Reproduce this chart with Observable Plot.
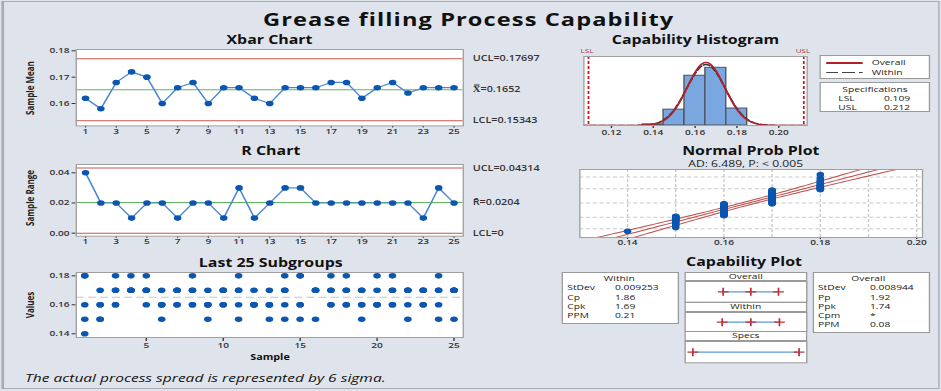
<!DOCTYPE html>
<html><head><meta charset="utf-8">
<script src="https://cdn.jsdelivr.net/npm/d3@7"></script>
<script src="https://cdn.jsdelivr.net/npm/@observablehq/plot@0.6"></script>
<style>
html,body{margin:0;padding:0;background:#dfe4ec;overflow:hidden}
#root{position:relative;height:391px;transform-origin:0 0;font-family:"Open Sans",sans-serif;color:#222;overflow:visible}
.t{position:absolute;white-space:nowrap;line-height:1}
.box{position:absolute;background:#fff;border:1px solid #9a9a9a;box-sizing:border-box}
.hdr{position:absolute;background:#fff;border:1px solid #9a9a9a;box-sizing:border-box}
svg{overflow:visible}
</style></head><body><div id="root"></div>
<script>
// ---------------- data ----------------
const samples = [1,2,3,4,5,6,7,8,9,10,11,12,13,14,15,16,17,18,19,20,21,22,23,24,25];
const xbarMeans = [0.162,0.158,0.168,0.172,0.170,0.160,0.166,0.168,0.160,0.166,0.166,0.162,0.160,0.166,0.166,0.166,0.168,0.168,0.162,0.166,0.168,0.164,0.166,0.166,0.166];
const ranges = [0.04,0.02,0.02,0.01,0.02,0.02,0.01,0.02,0.02,0.01,0.03,0.01,0.02,0.03,0.03,0.02,0.02,0.02,0.02,0.02,0.02,0.02,0.01,0.03,0.02];
const subgroups = [
  [0.18,0.18,0.16,0.15,0.14],[0.17,0.16,0.16,0.15,0.15],[0.18,0.17,0.17,0.16,0.16],[0.18,0.17,0.17,0.17,0.17],
  [0.18,0.17,0.17,0.17,0.16],[0.17,0.16,0.16,0.16,0.15],[0.17,0.17,0.17,0.16,0.16],[0.18,0.17,0.17,0.16,0.16],
  [0.17,0.16,0.16,0.16,0.15],[0.17,0.17,0.17,0.16,0.16],[0.18,0.17,0.17,0.16,0.15],[0.17,0.16,0.16,0.16,0.16],
  [0.17,0.16,0.16,0.16,0.15],[0.18,0.17,0.17,0.16,0.15],[0.18,0.18,0.16,0.16,0.15],[0.17,0.17,0.17,0.17,0.15],
  [0.18,0.17,0.17,0.16,0.16],[0.18,0.17,0.17,0.16,0.16],[0.17,0.17,0.16,0.16,0.15],[0.18,0.17,0.16,0.16,0.16],
  [0.18,0.17,0.17,0.16,0.16],[0.17,0.17,0.17,0.16,0.15],[0.17,0.17,0.17,0.16,0.16],[0.18,0.17,0.17,0.16,0.15],
  [0.17,0.17,0.17,0.17,0.15]
];
const xbarLimits = {ucl: 0.17697, cl: 0.1652, lcl: 0.15343};
const rLimits = {ucl: 0.04314, cl: 0.0204, lcl: 0};
const xbarLabels = ["UCL=0.17697", "X\u033F=0.1652", "LCL=0.15343"];
const rLabels = ["UCL=0.04314", "R\u0304=0.0204", "LCL=0"];
const xbarTicks = [1,3,5,7,9,11,13,15,17,19,21,23,25];
const subTicks = [5,10,15,20,25];
const LSL = 0.109, USL = 0.212;
const processMean = 0.1652;
const sdWithin = 0.009253, sdOverall = 0.008944;
const histEdges = [0.135,0.145,0.155,0.165,0.175,0.185];
const histTicks = [0.12,0.14,0.16,0.18,0.20];
const probTicks = [0.14,0.16,0.18,0.20];
const probGridX = [0.14,0.15,0.16,0.17,0.18,0.19,0.20];
const probGridPct = [1,10,50,90,99];
const adText = "AD: 6.489, P: < 0.005";
const withinStats = [["StDev","0.009253"],["Cp","1.86"],["Cpk","1.69"],["PPM","0.21"]];
const overallStats = [["StDev","0.008944"],["Pp","1.92"],["Ppk","1.74"],["Cpm","*"],["PPM","0.08"]];
const specRows = [["LSL","0.109"],["USL","0.212"]];

// ---------------- layout helpers ----------------
const S = 1.35;
const X = v => v / S;
const root = document.getElementById("root");
root.style.width = (941 / S) + "px";
root.style.transform = `scaleX(${S})`;

const RED = "#c9544d", GREEN = "#5fb55f", DOT = "#0a56b0", LINE = "#4a86d4", HIST = "#7ba7e0";

function txt(str, x, cy, o = {}) {
  const d = document.createElement("div");
  d.className = "t"; d.textContent = str;
  const fs = o.size || 8;
  d.style.fontSize = fs + "px"; d.style.height = fs + "px";
  d.style.fontWeight = o.weight || "normal";
  if (o.italic) d.style.fontStyle = "italic";
  if (o.spacing) d.style.letterSpacing = o.spacing + "px";
  d.style.color = o.color || "#222";
  d.style.top = (cy - 0.53 * fs) + "px";
  d.style.left = X(x) + "px";
  const a = o.anchor || "middle";
  d.style.transform = a === "middle" ? "translateX(-50%)" : a === "end" ? "translateX(-100%)" : "none";
  root.append(d); return d;
}
function vlabel(str, cx, cy, size) {
  const d = document.createElement("div");
  d.className = "t"; d.textContent = str;
  d.style.fontSize = size + "px"; d.style.fontWeight = "bold"; d.style.color = "#222";
  d.style.left = X(cx) + "px"; d.style.top = cy + "px";
  d.style.transform = "translate(-50%,-50%) rotate(-90deg)";
  root.append(d);
}
function box(x0, y0, x1, y1, cls = "box") {
  const d = document.createElement("div");
  d.className = cls;
  d.style.left = X(x0) + "px"; d.style.top = y0 + "px";
  d.style.width = X(x1 - x0) + "px"; d.style.height = (y1 - y0) + "px";
  root.append(d); return d;
}
function panel(fx0, fy0, fx1, fy1, m, opts) {
  const [mt, mr, mb, ml] = m;
  const chart = Plot.plot({
    ...opts,
    width: X(fx1 - fx0) + ml + mr, height: (fy1 - fy0) + mt + mb,
    marginTop: mt, marginRight: mr, marginBottom: mb, marginLeft: ml,
    style: {background: "transparent", fontFamily: "Open Sans", fontSize: "7.5px", fontWeight: 600, color: "#333", overflow: "visible"}
  });
  chart.style.position = "absolute";
  chart.style.left = (X(fx0) - ml) + "px";
  chart.style.top = (fy0 - mt) + "px";
  root.append(chart);
  return chart;
}

// outer border
const ob = box(1, 1, 940, 389, "box");
ob.style.background = "transparent"; ob.style.border = "1px solid #a8acb2"; ob.style.borderLeft = "2px solid #a8acb2";

// ---------------- title ----------------
txt("Grease filling Process Capability", 468.7, 20.2, {size: 17.5, weight: "bold", color: "#111", spacing: 0.8});

// ---------------- Xbar chart ----------------
const xbarTable = samples.map((s, i) => ({sample: s, mean: xbarMeans[i]}));
const xbarLab = [xbarLimits.ucl, xbarLimits.cl, xbarLimits.lcl].map((v, i) => ({v, t: xbarLabels[i]}));
txt("Xbar Chart", 269.5, 40.3, {size: 11.8, weight: "bold", color: "#111"});
vlabel("Sample Mean", 30, 88, 8);
panel(76, 49.3, 463, 125.7, [0, 75, 14, 30], {
  x: {domain: [0.4, 25.6], ticks: xbarTicks, tickSize: 2, tickPadding: 0.5, tickFormat: d => d, label: null},
  y: {domain: [0.1515, 0.1805], ticks: [0.16, 0.17, 0.18], tickFormat: ".2f", tickSize: 3, tickPadding: 2, label: null},
  marks: [
    Plot.frame({fill: "white", stroke: "none"}),
    Plot.ruleY([xbarLimits.ucl, xbarLimits.lcl], {stroke: RED, strokeWidth: 1}),
    Plot.ruleY([xbarLimits.cl], {stroke: GREEN, strokeWidth: 1}),
    Plot.line(xbarTable, {x: "sample", y: "mean", stroke: LINE, strokeWidth: 1.2}),
    Plot.dot(xbarTable, {x: "sample", y: "mean", r: 2.8, fill: DOT, stroke: "none"}),
    Plot.frame({stroke: "#a0a0a0"}),
    Plot.text(xbarLab, {x: () => 25.6, y: "v", text: "t", textAnchor: "start", dx: 7, fontSize: 8, fontWeight: 600, fill: "#333"})
  ]
});

// ---------------- R chart ----------------
const rTable = samples.map((s, i) => ({sample: s, range: ranges[i]}));
const rLab = [rLimits.ucl, rLimits.cl, rLimits.lcl].map((v, i) => ({v, t: rLabels[i]}));
txt("R Chart", 270.8, 151.3, {size: 11.8, weight: "bold", color: "#111"});
vlabel("Sample Range", 30, 198, 8);
panel(76, 164, 463, 235.7, [0, 75, 14, 30], {
  x: {domain: [0.4, 25.6], ticks: xbarTicks, tickSize: 2, tickPadding: 0.5, tickFormat: d => d, label: null},
  y: {domain: [-0.002, 0.0455], ticks: [0, 0.02, 0.04], tickFormat: ".2f", tickSize: 3, tickPadding: 2, label: null},
  marks: [
    Plot.frame({fill: "white", stroke: "none"}),
    Plot.ruleY([rLimits.ucl, rLimits.lcl], {stroke: RED, strokeWidth: 1}),
    Plot.ruleY([rLimits.cl], {stroke: GREEN, strokeWidth: 1}),
    Plot.line(rTable, {x: "sample", y: "range", stroke: LINE, strokeWidth: 1.2}),
    Plot.dot(rTable, {x: "sample", y: "range", r: 2.8, fill: DOT, stroke: "none"}),
    Plot.frame({stroke: "#a0a0a0"}),
    Plot.text(rLab, {x: () => 25.6, y: "v", text: "t", textAnchor: "start", dx: 7, fontSize: 8, fontWeight: 600, fill: "#333"})
  ]
});

// ---------------- Last 25 subgroups ----------------
const obs = subgroups.flatMap((g, i) => g.map(v => ({sample: samples[i], value: v})));
txt("Last 25 Subgroups", 270.8, 263.3, {size: 11.8, weight: "bold", color: "#111"});
vlabel("Values", 30, 305, 8);
txt("Sample", 270, 357, {size: 8, weight: "bold", color: "#111"});
panel(76, 271.7, 463, 336.7, [0, 10, 16, 30], {
  x: {domain: [0.45, 25.6], ticks: subTicks, tickSize: 4, tickPadding: 1.5, tickFormat: d => d, label: null},
  y: {domain: [0.1374, 0.1823], ticks: [0.14, 0.16, 0.18], tickFormat: ".2f", tickSize: 3, tickPadding: 2, label: null},
  marks: [
    Plot.frame({fill: "white", stroke: "none"}),
    Plot.ruleY([processMean], {stroke: "#c4c4c4", strokeWidth: 1.2, strokeDasharray: "6,3"}),
    Plot.dot(obs, {x: "sample", y: "value", r: 2.8, fill: DOT, stroke: "none"}),
    Plot.frame({stroke: "#a0a0a0"})
  ]
});

// ---------------- Capability histogram ----------------
const allValues = subgroups.flat();
const bins = histEdges.slice(0, -1).map((a, i) => {
  const b = histEdges[i + 1];
  return {x0: a, x1: b, count: allValues.filter(v => v >= a - 1e-9 && v < b - 1e-9).length};
});
const N = allValues.length, binW = histEdges[1] - histEdges[0];
const pdf = (x, m, sd) => Math.exp(-0.5 * ((x - m) / sd) ** 2) / (sd * Math.sqrt(2 * Math.PI));
const curveX = d3.range(0.105, 0.2165, 0.0005);
const curveOverall = curveX.map(x => ({x, y: N * binW * pdf(x, processMean, sdOverall)}));
const curveWithin = curveX.map(x => ({x, y: N * binW * pdf(x, processMean, sdWithin)}));
txt("Capability Histogram", 695.5, 40.3, {size: 11.8, weight: "bold", color: "#111"});
txt("LSL", 587, 51.5, {size: 6, color: "#b03a3a"});
txt("USL", 803, 51.5, {size: 6, color: "#b03a3a"});
panel(582.7, 56, 806, 125, [0, 0, 14, 0], {
  x: {domain: [0.1068, 0.2136], ticks: histTicks, tickFormat: ".2f", tickSize: 3, tickPadding: 1.5, label: null},
  y: {domain: [0, 61], axis: null},
  marks: [
    Plot.frame({fill: "white", stroke: "none"}),
    Plot.rectY(bins, {x1: "x0", x2: "x1", y: "count", fill: HIST, stroke: "#4f5358", strokeWidth: 1}),
    Plot.line(curveWithin, {x: "x", y: "y", stroke: "#3a3a3a", strokeWidth: 1.5, strokeDasharray: "5,2", clip: true}),
    Plot.line(curveOverall, {x: "x", y: "y", stroke: "#b3202a", strokeWidth: 1.4, clip: true}),
    Plot.ruleX([LSL, USL], {stroke: "#d0141e", strokeWidth: 1.3, strokeDasharray: "3,2"}),
    Plot.frame({stroke: "#a0a0a0"})
  ]
});

// legend + specs boxes
box(820, 55, 930, 79.3);
{
  const l1 = box(826.7, 62.3, 863.3, 64.3); l1.style.border = "none"; l1.style.background = "#b3202a";
  const l2 = box(826.7, 71.7, 863.3, 73.5); l2.style.border = "none";
  l2.style.background = "repeating-linear-gradient(to right, #444 0px, #444 9px, transparent 9px, transparent 12px)";
  txt("Overall", 871.7, 63.3, {size: 7.6, anchor: "start"});
  txt("Within", 871.7, 72.7, {size: 7.6, anchor: "start"});
}
box(820, 81.7, 930, 111.7);
txt("Specifications", 875, 90, {size: 7.6});
specRows.forEach((r, i) => {
  txt(r[0], 838.3, 99.3 + i * 9, {size: 7.6, anchor: "start"});
  txt(r[1], 884, 99.3 + i * 9, {size: 7.6, anchor: "start"});
});

// ---------------- Normal probability plot ----------------
function qnorm(p) {
  const a = [-3.969683028665376e+01, 2.209460984245205e+02, -2.759285104469687e+02, 1.383577518672690e+02, -3.066479806614716e+01, 2.506628277459239e+00];
  const b = [-5.447609879822406e+01, 1.615858368580409e+02, -1.556989798598866e+02, 6.680131188771972e+01, -1.328068155288572e+01];
  const c = [-7.784894002430293e-03, -3.223964580411365e-01, -2.400758277161838e+00, -2.549732539343734e+00, 4.374664141464968e+00, 2.938163982698783e+00];
  const d = [7.784695709041462e-03, 3.224671290700398e-01, 2.445134137142996e+00, 3.754408661907416e+00];
  const pl = 0.02425, ph = 1 - pl; let q, r;
  if (p < pl) { q = Math.sqrt(-2 * Math.log(p)); return (((((c[0]*q+c[1])*q+c[2])*q+c[3])*q+c[4])*q+c[5]) / ((((d[0]*q+d[1])*q+d[2])*q+d[3])*q+1); }
  if (p <= ph) { q = p - 0.5; r = q * q; return (((((a[0]*r+a[1])*r+a[2])*r+a[3])*r+a[4])*r+a[5])*q / (((((b[0]*r+b[1])*r+b[2])*r+b[3])*r+b[4])*r+1); }
  q = Math.sqrt(-2 * Math.log(1 - p)); return -(((((c[0]*q+c[1])*q+c[2])*q+c[3])*q+c[4])*q+c[5]) / ((((d[0]*q+d[1])*q+d[2])*q+d[3])*q+1);
}
const sorted = allValues.slice().sort((a, b) => a - b);
const probPts = sorted.map((v, i) => ({x: v, z: qnorm((i + 1 - 0.3) / (N + 0.4))}));
const zs = d3.range(-3.6, 3.61, 0.1);
const half = z => 1.96 * sdOverall * Math.sqrt(1 / N + z * z / (2 * (N - 1)));
const fitLine = zs.map(z => ({x: processMean + sdOverall * z, z}));
const loLine = zs.map(z => ({x: processMean + sdOverall * z - half(z), z}));
const hiLine = zs.map(z => ({x: processMean + sdOverall * z + half(z), z}));
txt("Normal Prob Plot", 750.8, 150.8, {size: 11.8, weight: "bold", color: "#111"});
txt(adText, 745.7, 163.8, {size: 9, color: "#222"});
panel(579, 169.3, 921.7, 237.3, [0, 0, 12, 0], {
  x: {domain: [0.1301, 0.2012], ticks: probTicks, tickFormat: ".2f", tickSize: 2, tickPadding: 0.5, label: null},
  y: {domain: [-3.1, 3.0], axis: null},
  marks: [
    Plot.frame({fill: "white", stroke: "none"}),
    Plot.ruleX(probGridX, {stroke: "#c9c9c9", strokeDasharray: "3,2"}),
    Plot.ruleY(probGridPct.map(p => qnorm(p / 100)), {stroke: "#c9c9c9", strokeDasharray: "3,2"}),
    Plot.line(loLine, {x: "x", y: "z", stroke: "#c0504d", strokeWidth: 1, clip: true}),
    Plot.line(fitLine, {x: "x", y: "z", stroke: "#c0504d", strokeWidth: 1, clip: true}),
    Plot.line(hiLine, {x: "x", y: "z", stroke: "#c0504d", strokeWidth: 1, clip: true}),
    Plot.dot(probPts, {x: "x", y: "z", r: 2.8, fill: DOT, stroke: "none"}),
    Plot.frame({stroke: "#a0a0a0"})
  ]
});

// ---------------- Capability plot ----------------
txt("Capability Plot", 744, 262.3, {size: 11.8, weight: "bold", color: "#111"});
// within stats
box(561.7, 271.7, 679, 324);
txt("Within", 619.3, 278.8, {size: 7.6});
withinStats.forEach((r, i) => {
  const y = 288.5 + i * 9.25;
  txt(r[0], 567.3, y, {size: 7.6, anchor: "start"});
  txt(r[1], 615, y, {size: 7.6, anchor: "start"});
});
// overall stats
box(812.7, 271.7, 930, 333.3);
txt("Overall", 868.3, 278.8, {size: 7.6});
overallStats.forEach((r, i) => {
  const y = 288.5 + i * 9.25;
  txt(r[0], 818, y, {size: 7.6, anchor: "start"});
  txt(r[1], 870, y, {size: 7.6, anchor: "start"});
});
// middle intervals
const intervals = [
  {name: "Overall", pts: [processMean - 3 * sdOverall, processMean, processMean + 3 * sdOverall], hdr: [271.7, 281], plot: [281, 301.7]},
  {name: "Within", pts: [processMean - 3 * sdWithin, processMean, processMean + 3 * sdWithin], hdr: [301.7, 311.7], plot: [311.7, 331]},
  {name: "Specs", pts: [LSL, USL], hdr: [331, 341], plot: [341, 362.3]}
];
intervals.forEach(iv => {
  box(685, iv.hdr[0], 806.7, iv.hdr[1], "hdr");
  txt(iv.name, 745.8, (iv.hdr[0] + iv.hdr[1]) / 2 + 0.3, {size: 7.6});
  panel(685, iv.plot[0], 806.7, iv.plot[1], [0, 0, 0, 0], {
    x: {domain: [0.1015, 0.2195], axis: null},
    y: {domain: [-1, 1], axis: null},
    marks: [
      Plot.frame({fill: "white", stroke: "#9a9a9a"}),
      Plot.ruleY([0], {x1: () => d3.min(iv.pts), x2: () => d3.max(iv.pts), stroke: "#5b9bd5", strokeWidth: 1.3}),
      Plot.dot(iv.pts, {x: d => d, y: () => 0, symbol: "plus", r: 2.7, stroke: "#c0303a", strokeWidth: 1.3})
    ]
  });
});

// ---------------- footer ----------------
txt("The actual process spread is represented by 6 sigma.", 25, 378.5, {size: 11.5, italic: true, anchor: "start", color: "#111"});
</script></body></html>
